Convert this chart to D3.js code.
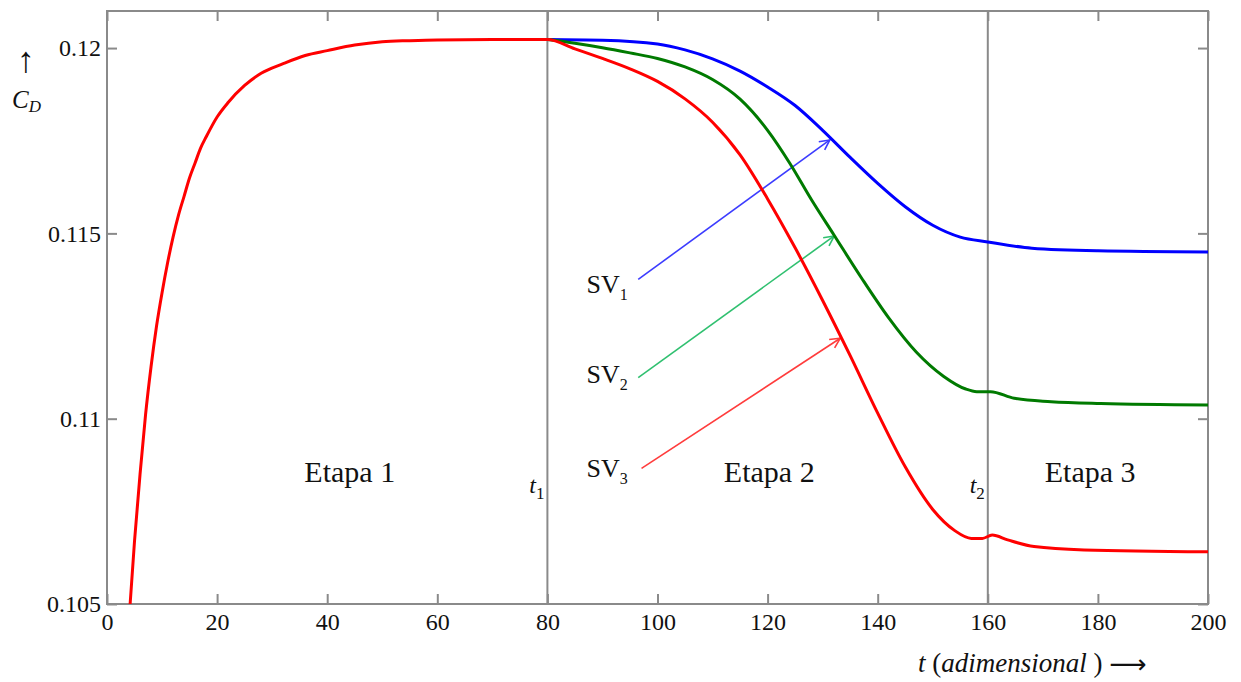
<!DOCTYPE html>
<html>
<head>
<meta charset="utf-8">
<script src="https://cdn.jsdelivr.net/npm/d3@7"></script>
<style>
  html, body { margin: 0; padding: 0; background: #fff; }
  svg { display: block; }
  text { font-family: "Liberation Serif", "Times New Roman", serif; fill: #111; }
</style>
</head>
<body>
<svg id="chart" width="1241" height="682"></svg>
<script>
// ---------------- DATA ----------------
const xTicks = [0, 20, 40, 60, 80, 100, 120, 140, 160, 180, 200];
const yTicks = [0.105, 0.11, 0.115, 0.12];
const yTickLabels = ["0.105", "0.11", "0.115", "0.12"];

// SV3 (red): stage 1 + stage 2 + stage 3
const redT = [4.2, 5, 6, 7, 8, 9, 10, 11, 12, 13, 14, 15, 16, 17, 18, 20, 22, 25, 28, 32, 36, 40, 45, 50, 55, 60, 70, 80,
  85, 90, 95, 100, 105, 110, 115, 120, 125, 130, 135, 140, 145, 150, 154, 157, 159, 160.8, 163.6, 168.4, 177.5, 200];
const redV = [0.1050, 0.1067, 0.1085, 0.1101, 0.1114, 0.1125, 0.1134, 0.1142, 0.1149, 0.1155, 0.1160, 0.1165, 0.1169, 0.1173, 0.1176,
  0.11814, 0.11853, 0.11899, 0.11932, 0.11958, 0.11980, 0.11993, 0.12008, 0.12017, 0.12020, 0.12022, 0.12023, 0.12023,
  0.11998, 0.11972, 0.11944, 0.11910, 0.11863, 0.11800, 0.11712, 0.11593, 0.11461, 0.11319, 0.11170, 0.11015, 0.10870,
  0.10755, 0.10698, 0.10677, 0.10677, 0.10686, 0.10673, 0.10655, 0.10646, 0.10641];

// SV2 (green)
const greenT = [80, 85, 90, 95, 100, 105, 110, 115, 120, 124, 128, 132, 137, 142, 147, 152, 156, 158, 160.5, 164.8, 171.5, 180.5, 200];
const greenV = [0.12023, 0.12013, 0.12001, 0.11987, 0.11972, 0.11949, 0.11915, 0.11862, 0.11778, 0.11690, 0.11590, 0.11497,
  0.11381, 0.11272, 0.11180, 0.11114, 0.11080, 0.11073, 0.11073, 0.11055, 0.11046, 0.11041, 0.11037];

// SV1 (blue)
const blueT = [80, 90, 100, 105, 110, 115, 120, 125, 130, 135, 140, 145, 150, 155, 160, 168, 180, 200];
const blueV = [0.12023, 0.12021, 0.12011, 0.11995, 0.11971, 0.11938, 0.11895, 0.11845, 0.11778, 0.11705, 0.11635, 0.11572,
  0.11522, 0.11490, 0.11477, 0.11460, 0.11453, 0.11450];

// stage boundaries
const stageLines = [80, 160];
const stageNames = ["Etapa 1", "Etapa 2", "Etapa 3"];
const stageLabelT = [44.1, 120.3, 178.6];

// annotation labels and arrows
const svLabels = ["SV", "SV", "SV"];
const svSubs = ["1", "2", "3"];
const svLabelT = [87.1, 87.1, 87.1];
const svLabelV = [0.11339, 0.11096, 0.10843];
const arrowFromT = [96.5, 96.5, 97.1];
const arrowFromV = [0.11376, 0.11111, 0.10866];
const arrowToT = [131.3, 132.1, 133.2];
const arrowToV = [0.11752, 0.11493, 0.11217];

// ---------------- CHART ----------------
const svg = d3.select("#chart");
const L = 107, R = 1208, T = 11, B = 604;
const x = d3.scaleLinear().domain([0, 200]).range([L, R]);
const y = d3.scaleLinear().domain([0.105, 0.121]).range([B, T]);

const axisColor = "#8a8a8a";

svg.append("defs").append("clipPath").attr("id", "clip")
  .append("rect").attr("x", L).attr("y", T).attr("width", R - L).attr("height", B - T);

// stage lines
svg.append("g").selectAll("line").data(stageLines).join("line")
  .attr("x1", d => x(d)).attr("x2", d => x(d))
  .attr("y1", y(0.105)).attr("y2", y(0.121))
  .attr("stroke", axisColor).attr("stroke-width", 2);

// axes (inward ticks)
const fmt = d => yTickLabels[yTicks.indexOf(d)];
const gL = svg.append("g").attr("transform", `translate(${L},0)`)
  .call(d3.axisLeft(y).tickValues(yTicks).tickFormat(fmt).tickSize(-10).tickPadding(6));
const gR = svg.append("g").attr("transform", `translate(${R},0)`)
  .call(d3.axisRight(y).tickValues(yTicks).tickFormat("").tickSize(-10));
const gB = svg.append("g").attr("transform", `translate(0,${B})`)
  .call(d3.axisBottom(x).tickValues(xTicks).tickFormat(d3.format("d")).tickSize(-10).tickPadding(9));
const gT = svg.append("g").attr("transform", `translate(0,${T})`)
  .call(d3.axisTop(x).tickValues(xTicks).tickFormat("").tickSize(-10));

[gL, gR, gB, gT].forEach(g => {
  g.attr("font-family", null).attr("font-size", null);
  g.select(".domain").remove();
  g.selectAll(".tick line").attr("stroke", axisColor).attr("stroke-width", 2);
  g.selectAll(".tick text").style("font-family", "'Liberation Serif', serif")
    .style("font-size", "24px").attr("fill", "#222");
});

svg.append("rect").attr("x", L).attr("y", T).attr("width", R - L).attr("height", B - T)
  .attr("fill", "none").attr("stroke", axisColor).attr("stroke-width", 2);

// arrows (annotation)
const arrowColors = ["#3c3cff", "#30c070", "#ff3c3c"];
const defs = svg.select("defs");
arrowColors.forEach((c, i) => {
  defs.append("marker").attr("id", "ah" + i)
    .attr("viewBox", "0 0 12 12").attr("refX", 11).attr("refY", 6)
    .attr("markerWidth", 12).attr("markerHeight", 12).attr("markerUnits", "userSpaceOnUse")
    .attr("orient", "auto")
    .append("path").attr("d", "M1,1 L11,6 L1,11").attr("fill", "none")
    .attr("stroke", c).attr("stroke-width", 1.6);
});
svg.append("g").selectAll("line").data(d3.range(3)).join("line")
  .attr("x1", i => x(arrowFromT[i])).attr("y1", i => y(arrowFromV[i]))
  .attr("x2", i => x(arrowToT[i])).attr("y2", i => y(arrowToV[i]))
  .attr("stroke", i => arrowColors[i]).attr("stroke-width", 1.6)
  .attr("marker-end", (i) => `url(#ah${i})`);

// curves
const line = d3.line().x(d => x(d[0])).y(d => y(d[1])).curve(d3.curveMonotoneX);
const series = [
  { t: blueT, v: blueV, color: "#0000ff" },
  { t: greenT, v: greenV, color: "#007a00" },
  { t: redT, v: redV, color: "#ff0000" }
];
svg.append("g").attr("clip-path", "url(#clip)").selectAll("path").data(series).join("path")
  .attr("d", s => line(s.t.map((t, i) => [t, s.v[i]])))
  .attr("fill", "none").attr("stroke", s => s.color).attr("stroke-width", 3)
  .attr("stroke-linejoin", "round");

// stage names
svg.append("g").selectAll("text").data(stageNames).join("text")
  .attr("x", (d, i) => x(stageLabelT[i])).attr("y", y(0.10829))
  .attr("text-anchor", "middle").style("font-size", "30px").text(d => d);

// t1, t2
[["1", 80], ["2", 160]].forEach(([s, t]) => {
  const tx = svg.append("text").attr("x", x(t) - 3).attr("y", y(0.10799)).attr("text-anchor", "end");
  tx.append("tspan").style("font-style", "italic").style("font-size", "24px").text("t");
  tx.append("tspan").attr("dy", 6).style("font-size", "17px").text(s);
});

// SV labels
svLabels.forEach((lab, i) => {
  const tx = svg.append("text").attr("x", x(svLabelT[i])).attr("y", y(svLabelV[i])).style("font-size", "26px");
  tx.append("tspan").text(lab);
  tx.append("tspan").attr("dy", 7).style("font-size", "16px").text(svSubs[i]);
});

// y axis title
svg.append("text").attr("x", 26).attr("y", 72).attr("text-anchor", "middle")
  .style("font-size", "36px").text("↑");
const cd = svg.append("text").attr("x", 12).attr("y", 108).style("font-style", "italic").style("font-size", "25px");
cd.append("tspan").text("C");
cd.append("tspan").attr("dy", 4).style("font-size", "17px").text("D");

// x axis title
const xt = svg.append("text").attr("x", 918).attr("y", 672).style("font-size", "27px");
xt.append("tspan").style("font-style", "italic").text("t");
xt.append("tspan").text(" (");
xt.append("tspan").style("font-style", "italic").text("adimensional");
xt.append("tspan").text(" ) ");
xt.append("tspan").style("font-family", "'DejaVu Sans', sans-serif").style("font-size", "26px").attr("dy", 1).text("⟶");
</script>
</body>
</html>
